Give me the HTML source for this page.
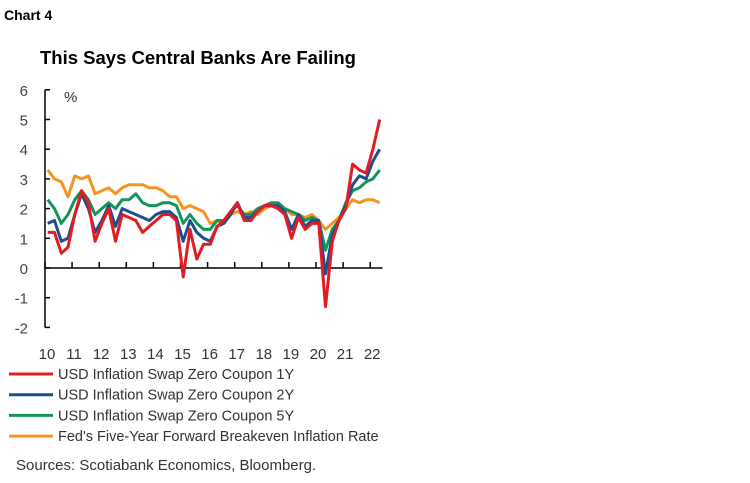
<!DOCTYPE html>
<html><head><meta charset="utf-8"><style>
body{margin:0;width:750px;height:483px;background:#fff;font-family:"Liberation Sans",sans-serif;overflow:hidden}
svg{position:absolute;left:0;top:0}
</style></head><body>
<svg width="750" height="483" id="chart">
<text x="4" y="20" font-size="14" font-weight="bold" fill="#000">Chart 4</text>
<text x="40" y="64" font-size="18.5" font-weight="bold" fill="#000">This Says Central Banks Are Failing</text>
<text x="64" y="102" font-size="15" fill="#333">%</text>
<g id="axes"></g><g id="series"></g><g id="legend"></g>
<text x="16" y="470" font-size="15" fill="#333">Sources: Scotiabank Economics, Bloomberg.</text>
</svg>
<script>
const xTickLabels=["10","11","12","13","14","15","16","17","18","19","20","21","22"];
const yTicks=[6,5,4,3,2,1,0,-1,-2];
const seriesNames=["USD Inflation Swap Zero Coupon 1Y","USD Inflation Swap Zero Coupon 2Y","USD Inflation Swap Zero Coupon 5Y","Fed's Five-Year Forward Breakeven Inflation Rate"];
const startYear=2010, stepYears=0.25;
const red=[1.2,1.2,0.5,0.7,1.8,2.6,2.2,0.9,1.5,2.0,0.9,1.8,1.7,1.6,1.2,1.4,1.6,1.8,1.8,1.6,-0.3,1.3,0.3,0.8,0.8,1.4,1.6,1.9,2.2,1.6,1.6,1.9,2.1,2.1,2.0,1.8,1.0,1.7,1.3,1.5,1.5,-1.3,0.9,1.6,2.0,3.5,3.3,3.2,4.0,5.0];
const blue=[1.5,1.6,0.9,1.0,1.8,2.5,2.0,1.2,1.6,2.1,1.4,2.0,1.9,1.8,1.7,1.6,1.8,1.9,1.9,1.7,0.9,1.6,1.2,1.0,0.9,1.4,1.5,1.8,2.2,1.7,1.7,1.9,2.1,2.1,2.1,1.9,1.3,1.8,1.4,1.6,1.6,-0.2,1.1,1.6,2.1,2.8,3.1,3.0,3.6,4.0];
const green=[2.3,2.0,1.5,1.8,2.3,2.6,2.3,1.8,2.0,2.2,2.0,2.3,2.3,2.5,2.2,2.1,2.1,2.2,2.2,2.1,1.5,1.8,1.5,1.3,1.3,1.6,1.6,1.9,2.1,1.8,1.8,2.0,2.1,2.2,2.2,2.0,1.9,1.8,1.6,1.7,1.6,0.6,1.3,1.6,2.2,2.6,2.7,2.9,3.0,3.3];
const orange=[3.3,3.0,2.9,2.4,3.1,3.0,3.1,2.5,2.6,2.7,2.5,2.7,2.8,2.8,2.8,2.7,2.7,2.6,2.4,2.4,2.0,2.1,2.0,1.9,1.5,1.6,1.5,1.8,1.9,1.8,1.9,1.8,2.0,2.1,2.1,2.0,1.8,1.8,1.7,1.8,1.6,1.3,1.5,1.7,2.0,2.3,2.2,2.3,2.3,2.2];
const NS="http://www.w3.org/2000/svg";
const X0=45,Y0=268,PX_YEAR=27.1,PX_UNIT=29.7;
const xs=y=>X0+(y-2010)*PX_YEAR;
const ys=v=>Y0-v*PX_UNIT;
function mk(tag,attrs,parent){const e=document.createElementNS(NS,tag);for(const k in attrs)e.setAttribute(k,attrs[k]);parent.appendChild(e);return e;}
const axes=document.getElementById('axes');
let e=mk('line',{x1:X0,x2:X0,y1:ys(6),y2:ys(-2),stroke:'#000','stroke-width':1.5},axes);


e=mk('line',{x1:X0,x2:xs(2022.45),y1:Y0,y2:Y0,stroke:'#000','stroke-width':1.5},axes);


yTicks.forEach(v=>{
 mk('line',{x1:X0,x2:X0+5,y1:ys(v),y2:ys(v),stroke:'#000','stroke-width':1.5},axes);
 const t=mk('text',{x:X0-17,y:ys(v)+6,'font-size':15,fill:'#444','text-anchor':'end'},axes);
 t.textContent=v;
 
 
});
xTickLabels.forEach((l,i)=>{
 const x=xs(2010+i);
 mk('line',{x1:x,x2:x,y1:Y0,y2:Y0-6,stroke:'#000','stroke-width':1.5},axes);
 const t=mk('text',{x:x+2,y:359,'font-size':15,fill:'#333','text-anchor':'middle'},axes);
 t.textContent=l;
 
 
});
const colors=['#e31b23','#1f4e8c','#12945a','#f7941d'];
const data=[red,blue,green,orange];
const names=['series-1y','series-2y','series-5y','series-5y5y'];
const sg=document.getElementById('series');
[3,2,1,0].forEach(k=>{
 const pts=data[k].map((v,i)=>xs(startYear+i*stepYears+0.1).toFixed(1)+','+ys(v).toFixed(1)).join(' ');
 const p=mk('polyline',{points:pts,fill:'none',stroke:colors[k],'stroke-width':3,'stroke-linejoin':'round'},sg);
 
 
});
const lg=document.getElementById('legend');
seriesNames.forEach((n,i)=>{
 const y=374+i*20.7;
 const g=mk('g',{},lg);
 
 
 mk('line',{x1:9,x2:53,y1:y,y2:y,stroke:colors[i],'stroke-width':3},g);
 const t=mk('text',{x:58,y:y+5,'font-size':14.5,fill:'#333'},g);
 t.textContent=n;
});
</script>
</body></html>
